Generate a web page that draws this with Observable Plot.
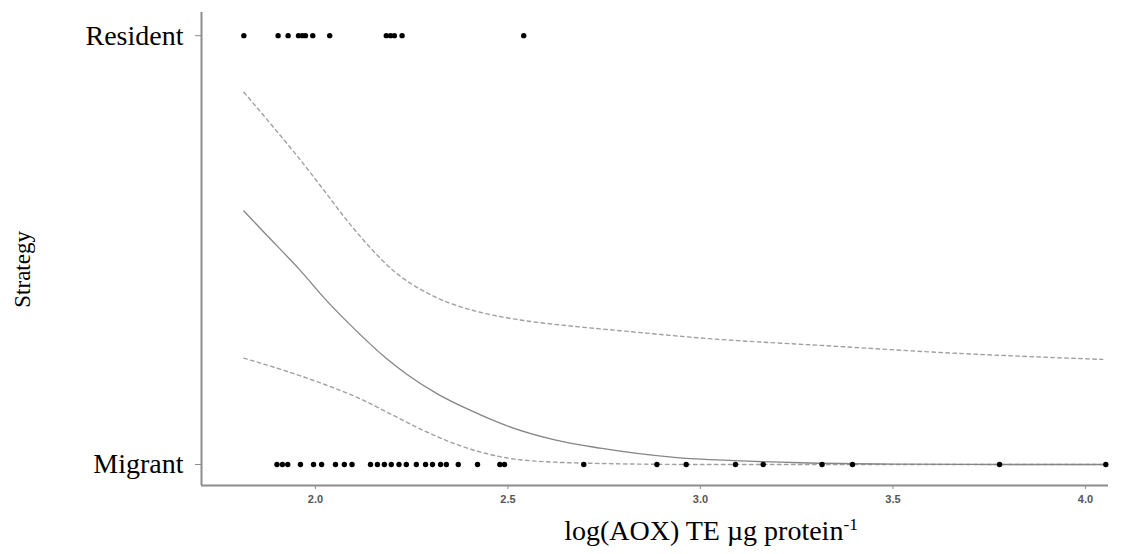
<!DOCTYPE html>
<html>
<head>
<meta charset="utf-8">
<script src="https://cdn.jsdelivr.net/npm/d3@7"></script>
<script src="https://cdn.jsdelivr.net/npm/@observablehq/plot@0.6"></script>
<style>
  html, body { margin: 0; padding: 0; background: #fff; }
</style>
</head>
<body>
<div id="chart"></div>
<script>
// Categories (y): 0 = Migrant, 1 = Resident
const strategies = ["Migrant", "Resident"];

// Observed log(AOX) values per strategy
const residentX = [1.814, 1.903, 1.929, 1.956, 1.966, 1.974, 1.993, 2.037, 2.184, 2.195, 2.205, 2.225, 2.541];
const migrantX = [1.900, 1.914, 1.928, 1.961, 1.995, 2.016, 2.052, 2.075, 2.095, 2.143, 2.161, 2.179, 2.197,
  2.217, 2.236, 2.262, 2.286, 2.304, 2.325, 2.340, 2.371, 2.421, 2.479, 2.491,
  2.697, 2.887, 2.963, 3.091, 3.163, 3.316, 3.395, 3.777, 4.053];

// Fitted probability curve
const fitX = [1.814, 1.870, 1.961, 2.026, 2.099, 2.186, 2.238, 2.320, 2.403, 2.498, 2.619, 2.740, 2.939, 3.086, 3.260, 3.500, 3.800, 4.045];
const fitY = [0.591, 0.538, 0.452, 0.385, 0.318, 0.246, 0.210, 0.163, 0.126, 0.090, 0.058, 0.038, 0.016, 0.009, 0.004, 0.001, 0.000, 0.000];

// Upper confidence band
const upperX = [1.814, 1.883, 1.952, 2.013, 2.074, 2.143, 2.205, 2.290, 2.394, 2.442, 2.532, 2.662, 2.792, 3.000, 3.345, 3.649, 3.900, 4.045];
const upperY = [0.868, 0.795, 0.720, 0.650, 0.578, 0.505, 0.450, 0.400, 0.363, 0.352, 0.337, 0.323, 0.312, 0.295, 0.276, 0.260, 0.250, 0.245];

// Lower confidence band
const lowerX = [1.814, 1.940, 2.026, 2.112, 2.199, 2.286, 2.372, 2.446, 2.532, 2.706, 3.000, 4.045];
const lowerY = [0.248, 0.213, 0.186, 0.155, 0.116, 0.077, 0.045, 0.025, 0.011, 0.003, 0.000, 0.000];

const xTicks = [2.0, 2.5, 3.0, 3.5, 4.0];

const points = [
  ...residentX.map(x => ({x, y: 1})),
  ...migrantX.map(x => ({x, y: 0}))
];
const toRows = (xs, ys) => xs.map((x, i) => ({x, y: ys[i]}));
const fit = toRows(fitX, fitY);
const upper = toRows(upperX, upperY);
const lower = toRows(lowerX, lowerY);

const xMin = 1.704, xMax = 4.06, yMin = -0.049, yMax = 1.054;
const axisColor = "#8c8c8c";
const serif = "'Liberation Serif', 'Times New Roman', serif";

const chart = Plot.plot({
  width: 1142,
  height: 554,
  marginLeft: 201,
  marginRight: 34,
  marginTop: 12,
  marginBottom: 69,
  style: {background: "#fff", overflow: "visible"},
  x: {domain: [xMin, xMax]},
  y: {domain: [yMin, yMax]},
  marks: [
    Plot.axisX({
      ticks: xTicks, tickFormat: d3.format(".1f"), tickSize: 4, tickPadding: 6,
      stroke: axisColor, fill: "#555", fontSize: 11, fontWeight: "bold",
      fontFamily: "'Liberation Sans Narrow', 'Arial Narrow', 'Liberation Sans', sans-serif",
      label: null
    }),
    Plot.axisY({
      ticks: [0, 1], tickFormat: d => strategies[d], tickSize: 6, tickPadding: 12,
      stroke: axisColor, fill: "#000", fontSize: 28, fontFamily: serif,
      label: null
    }),
    Plot.ruleX([xMin], {stroke: axisColor, strokeWidth: 2}),
    Plot.ruleY([yMin], {stroke: axisColor, strokeWidth: 2}),
    Plot.line(upper, {x: "x", y: "y", stroke: "#a0a0a0", strokeWidth: 1.4, strokeDasharray: "3.5,3.5", curve: "monotone-x"}),
    Plot.line(lower, {x: "x", y: "y", stroke: "#a0a0a0", strokeWidth: 1.4, strokeDasharray: "3.5,3.5", curve: "monotone-x"}),
    Plot.line(fit, {x: "x", y: "y", stroke: "#858585", strokeWidth: 1.3, curve: "monotone-x"}),
    Plot.dot(points, {x: "x", y: "y", r: 2.7, fill: "#000", stroke: "none"}),
    Plot.text(["Strategy"], {
      x: xMin, y: 0.455, dx: -179, rotate: -90, fontSize: 23,
      fontFamily: serif, fill: "#000"
    }),
    Plot.text(["log(AOX) TE µg protein"], {
      frameAnchor: "bottom", dx: 56, dy: 54, fontSize: 28,
      fontFamily: serif, fill: "#000",
      className: "xlabel"
    })
  ]
});

document.getElementById("chart").appendChild(chart);

// superscript "-1" on the x-axis label
d3.select(chart).select("g.xlabel text")
  .append("tspan")
  .attr("dy", "-0.55em")
  .attr("font-size", "0.62em")
  .text("-1");
</script>
</body>
</html>
